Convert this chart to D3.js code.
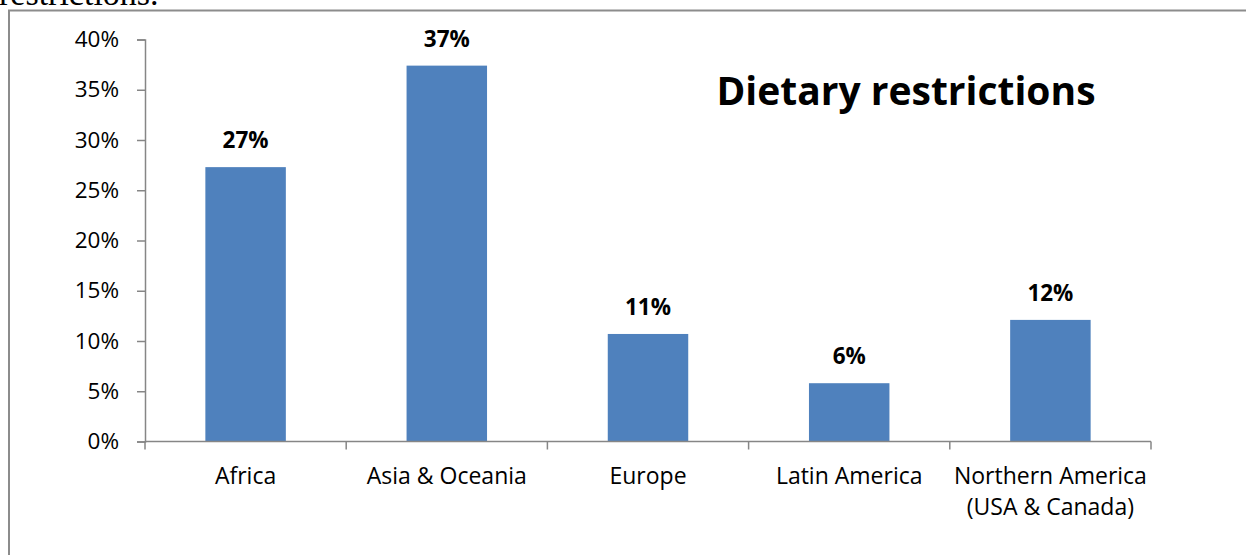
<!DOCTYPE html>
<html>
<head>
<meta charset="utf-8">
<script src="https://cdn.jsdelivr.net/npm/d3@7"></script>
<style>
  html, body { margin: 0; padding: 0; background: #fff; }
  svg { display: block; }
</style>
</head>
<body>
<script>
// Share of respondents reporting dietary restrictions, by region
const categories = ["Africa", "Asia & Oceania", "Europe", "Latin America", "Northern America\n(USA & Canada)"];
const shares = [0.273, 0.374, 0.107, 0.058, 0.121];
const yTicks = [0, 0.05, 0.10, 0.15, 0.20, 0.25, 0.30, 0.35, 0.40];
const chartTitle = "Dietary restrictions";

const W = 1246, H = 555;
const font = "'Open Sans', 'DejaVu Sans', sans-serif";
const axisColor = "#868686";
const barColor = "#4f81bd";

const svg = d3.select("body").append("svg")
  .attr("width", W).attr("height", H);

// tail of the preceding paragraph in the document
svg.append("text")
  .attr("x", -1).attr("y", 5)
  .attr("font-family", "'Liberation Serif', 'Times New Roman', serif")
  .attr("font-size", 34)
  .attr("fill", "#000")
  .text("restrictions.");

// chart frame
svg.append("rect")
  .attr("x", 9).attr("y", 10.5)
  .attr("width", W + 20).attr("height", H + 20)
  .attr("fill", "#fff")
  .attr("stroke", "#8c8c8c").attr("stroke-width", 2);

const x = d3.scaleBand()
  .domain(categories)
  .range([145, 1151])
  .paddingInner(0.6)
  .paddingOuter(0.3);

const y = d3.scaleLinear()
  .domain([0, 0.4])
  .range([441.5, 39.5]);

const pct = d3.format(".0%");

// bars
svg.append("g").selectAll("rect")
  .data(categories)
  .join("rect")
  .attr("x", d => x(d))
  .attr("y", (d, i) => y(shares[i]))
  .attr("width", x.bandwidth())
  .attr("height", (d, i) => y(0) - y(shares[i]))
  .attr("fill", barColor);

// y axis
const yAxis = svg.append("g")
  .attr("transform", "translate(145,0)")
  .call(d3.axisLeft(y).tickValues(yTicks).tickFormat(pct).tickSize(8).tickPadding(18));
yAxis.select(".domain").attr("stroke", axisColor).attr("stroke-width", 1.5);
yAxis.selectAll(".tick line").attr("stroke", axisColor).attr("stroke-width", 1.5);
yAxis.selectAll(".tick text")
  .attr("font-family", font).attr("font-size", 22.5).attr("fill", "#000");

// x axis: ticks sit on the category boundaries
const boundaries = categories.map(c => x(c) - x.step() * x.paddingOuter())
  .concat([x.range()[1]]);
const xAxisG = svg.append("g").attr("transform", `translate(0,${y(0)})`);
xAxisG.append("line")
  .attr("x1", x.range()[0]).attr("x2", x.range()[1])
  .attr("stroke", axisColor).attr("stroke-width", 1.5);
xAxisG.selectAll("line.tick")
  .data(boundaries)
  .join("line")
  .attr("class", "tick")
  .attr("x1", d => d).attr("x2", d => d)
  .attr("y1", 0).attr("y2", 8)
  .attr("stroke", axisColor).attr("stroke-width", 1.5);

// category labels
const catLabels = svg.append("g").selectAll("text")
  .data(categories)
  .join("text")
  .attr("text-anchor", "middle")
  .attr("font-family", font).attr("font-size", 23).attr("fill", "#000");
catLabels.each(function (d) {
  const lines = d.split("\n");
  const t = d3.select(this);
  lines.forEach((ln, k) => {
    t.append("tspan")
      .attr("x", x(d) + x.bandwidth() / 2)
      .attr("y", 484 + k * 31)
      .text(ln);
  });
});

// value labels
svg.append("g").selectAll("text")
  .data(categories)
  .join("text")
  .attr("x", d => x(d) + x.bandwidth() / 2)
  .attr("y", (d, i) => y(shares[i]) - 19)
  .attr("text-anchor", "middle")
  .attr("font-family", font).attr("font-size", 22.5).attr("font-weight", "bold")
  .attr("fill", "#000")
  .text((d, i) => pct(shares[i]));

// title
svg.append("text")
  .attr("x", 906).attr("y", 105)
  .attr("text-anchor", "middle")
  .attr("font-family", font).attr("font-size", 39).attr("font-weight", "bold")
  .attr("fill", "#000")
  .text(chartTitle);
</script>
</body>
</html>
